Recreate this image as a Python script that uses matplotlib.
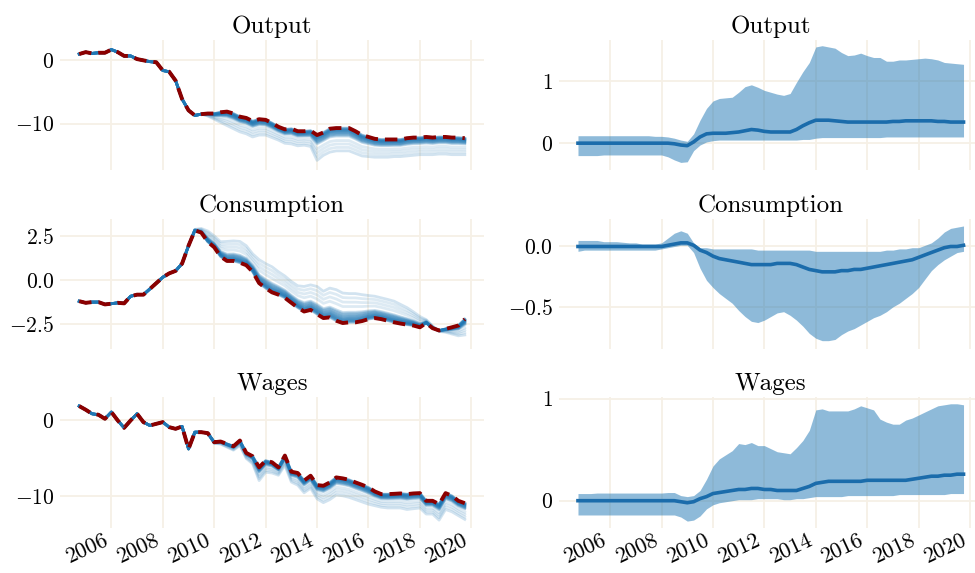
import numpy as np
import pandas as pd
import matplotlib
matplotlib.use("Agg")
import matplotlib.pyplot as plt

plt.rcParams["font.family"] = "serif"
plt.rcParams["font.serif"] = ["cmr10"]
plt.rcParams["mathtext.fontset"] = "cm"
plt.rcParams["axes.formatter.use_mathtext"] = True

# quarterly dates, 2004Q4 .. 2019Q4
dates = pd.date_range("2004-10-01", periods=61, freq="QS")
tick_years = [2006, 2008, 2010, 2012, 2014, 2016, 2018, 2020]
titles = ["Output", "Consumption", "Wages"]

# left column: reference path (red dashed) and the most extreme simulated path
output_ref = [1.0, 1.3, 1.1, 1.2, 1.2, 1.7, 1.3, 0.7, 0.7, 0.2,
              0.0, -0.2, -0.3, -1.6, -1.8, -3.2, -6.1, -7.9, -8.7, -8.5,
              -8.4, -8.4, -8.2, -8.1, -8.4, -8.9, -9.1, -9.6, -9.3, -9.4,
              -9.9, -10.5, -10.9, -10.8, -11.2, -11.2, -11.1, -11.8, -11.4, -10.8,
              -10.7, -10.7, -10.7, -11.2, -11.8, -12.1, -12.4, -12.5, -12.5, -12.5,
              -12.5, -12.3, -12.2, -12.2, -12.1, -12.2, -12.1, -12.1, -12.2, -12.2, -12.3]
output_ext = [1.0, 1.3, 1.1, 1.2, 1.2, 1.7, 1.3, 0.7, 0.7, 0.2,
              0.0, -0.2, -0.3, -1.6, -1.8, -3.2, -6.1, -7.9, -8.7, -8.5,
              -8.8, -9.3, -9.8, -10.3, -10.8, -11.3, -11.6, -12.1, -11.8, -11.8,
              -12.2, -12.6, -13.1, -13.2, -13.5, -13.4, -13.6, -15.8, -15.0, -14.5,
              -14.3, -14.3, -14.3, -14.7, -15.1, -15.2, -15.3, -15.3, -15.3, -15.2,
              -15.2, -15.1, -15.0, -14.9, -14.9, -14.9, -14.8, -14.8, -14.9, -14.9, -14.9]

cons_ref = [-1.2, -1.29, -1.25, -1.25, -1.38, -1.34, -1.29, -1.32, -0.92, -0.83,
            -0.83, -0.51, -0.18, 0.15, 0.37, 0.51, 0.92, 1.93, 2.79, 2.67,
            2.15, 1.84, 1.32, 1.07, 1.07, 0.97, 0.83, 0.46, -0.18, -0.46,
            -0.70, -0.83, -1.01, -1.29, -1.56, -1.78, -1.69, -1.93, -2.15, -2.11,
            -2.30, -2.43, -2.39, -2.39, -2.32, -2.21, -2.15, -2.21, -2.30, -2.39,
            -2.46, -2.52, -2.57, -2.67, -2.43, -2.72, -2.85, -2.76, -2.67, -2.57, -2.21]
cons_ext = [-1.2, -1.29, -1.25, -1.25, -1.38, -1.34, -1.29, -1.32, -0.92, -0.83,
            -0.83, -0.51, -0.18, 0.15, 0.37, 0.51, 0.92, 1.93, 2.85, 2.9,
            2.76, 2.48, 2.15, 2.17, 2.2, 2.17, 1.93, 1.47, 1.14, 0.92,
            0.74, 0.46, 0.22, -0.09, -0.33, -0.37, -0.28, -0.37, -0.64, -0.46,
            -0.55, -0.74, -0.77, -0.77, -0.83, -0.88, -0.92, -1.01, -1.10, -1.2,
            -1.38, -1.56, -1.8, -2.06, -2.24, -2.6, -2.9, -2.95, -3.05, -3.15, -3.1]

wages_ref = [1.8, 1.32, 0.79, 0.66, 0.13, 1.01, -0.09, -1.06, -0.09, 0.79,
             -0.31, -0.75, -0.53, -0.31, -0.97, -1.19, -0.88, -3.83, -1.63, -1.63,
             -1.76, -2.95, -2.86, -3.17, -3.48, -2.73, -4.36, -4.80, -6.26, -5.37,
             -5.59, -6.26, -4.71, -6.83, -7.0, -8.0, -7.36, -8.59, -8.68, -8.24,
             -7.58, -7.71, -7.89, -8.24, -8.55, -8.9, -9.43, -9.78, -9.78, -9.74,
             -9.69, -9.78, -9.69, -9.65, -10.66, -10.66, -11.1, -9.65, -10.0, -10.66, -10.97]
wages_ext = [1.8, 1.32, 0.79, 0.66, 0.13, 1.01, -0.09, -1.06, -0.09, 0.79,
             -0.31, -0.75, -0.53, -0.31, -0.97, -1.19, -0.88, -3.83, -1.63, -1.63,
             -1.76, -3.1, -3.2, -3.6, -4.0, -3.4, -5.1, -5.8, -8.0, -6.9,
             -7.0, -7.3, -6.0, -8.2, -8.6, -9.6, -9.0, -10.4, -10.9, -10.5,
             -9.9, -10.0, -10.2, -10.5, -10.8, -11.1, -11.3, -11.5, -11.6, -11.6,
             -11.6, -11.8, -11.7, -11.6, -12.4, -12.4, -13.2, -11.8, -12.1, -12.6, -13.1]

# share of the way from reference path to extreme path, one per simulated path
ens_weights = [0.0, 0.02, 0.04, 0.06, 0.08, 0.1, 0.12, 0.14, 0.17, 0.2,
               0.23, 0.27, 0.31, 0.35, 0.55, 0.7, 0.85, 1.0]
ens_alpha = [0.3, 0.3, 0.3, 0.3, 0.3, 0.3, 0.3, 0.3, 0.3, 0.3,
             0.3, 0.3, 0.25, 0.25, 0.15, 0.15, 0.15, 0.2]

# right column: mean effect and band
output_mean = [0.0, 0.0, 0.0, 0.0, 0.0, 0.0, 0.0, 0.0, 0.0, 0.0,
               0.0, 0.0, 0.0, 0.0, 0.0, -0.01, -0.03, -0.04, 0.02, 0.10,
               0.15, 0.16, 0.16, 0.16, 0.17, 0.18, 0.20, 0.22, 0.21, 0.19,
               0.18, 0.18, 0.18, 0.18, 0.22, 0.28, 0.33, 0.37, 0.37, 0.37,
               0.36, 0.35, 0.34, 0.34, 0.34, 0.34, 0.34, 0.34, 0.34, 0.35,
               0.35, 0.36, 0.36, 0.36, 0.36, 0.36, 0.35, 0.35, 0.34, 0.34, 0.34]
output_hi = [0.12, 0.12, 0.12, 0.12, 0.12, 0.12, 0.12, 0.12, 0.12, 0.12,
             0.12, 0.12, 0.11, 0.11, 0.10, 0.08, 0.05, 0.03, 0.15, 0.37,
             0.56, 0.68, 0.72, 0.73, 0.74, 0.82, 0.91, 0.94, 0.90, 0.85,
             0.82, 0.79, 0.77, 0.80, 0.98, 1.15, 1.30, 1.55, 1.57, 1.55,
             1.53, 1.46, 1.41, 1.42, 1.45, 1.41, 1.38, 1.38, 1.32, 1.32,
             1.34, 1.34, 1.35, 1.36, 1.37, 1.36, 1.34, 1.30, 1.29, 1.28, 1.27]
output_lo = [-0.20, -0.20, -0.20, -0.20, -0.19, -0.19, -0.19, -0.19, -0.19, -0.19,
             -0.19, -0.19, -0.19, -0.19, -0.22, -0.27, -0.31, -0.30, -0.12, -0.03,
             0.02, 0.04, 0.05, 0.05, 0.05, 0.05, 0.05, 0.05, 0.05, 0.05,
             0.05, 0.05, 0.05, 0.05, 0.05, 0.06, 0.06, 0.08, 0.09, 0.09,
             0.09, 0.09, 0.09, 0.09, 0.09, 0.09, 0.09, 0.09, 0.10, 0.10,
             0.10, 0.10, 0.10, 0.10, 0.10, 0.10, 0.10, 0.10, 0.10, 0.10, 0.10]

cons_mean = [0.0, 0.0, 0.0, 0.0, 0.0, 0.0, 0.0, 0.0, 0.0, 0.0,
             0.0, 0.0, 0.0, 0.0, 0.01, 0.02, 0.03, 0.03, 0.01, -0.03,
             -0.05, -0.08, -0.10, -0.11, -0.12, -0.13, -0.14, -0.15, -0.15, -0.15,
             -0.15, -0.14, -0.14, -0.14, -0.15, -0.17, -0.19, -0.20, -0.21, -0.21,
             -0.21, -0.20, -0.20, -0.19, -0.19, -0.18, -0.17, -0.16, -0.15, -0.14,
             -0.13, -0.12, -0.11, -0.09, -0.07, -0.05, -0.03, -0.01, 0.0, 0.0, 0.01]
cons_hi = [0.05, 0.05, 0.05, 0.05, 0.04, 0.04, 0.04, 0.035, 0.03, 0.03,
           0.02, 0.02, 0.02, 0.03, 0.07, 0.11, 0.13, 0.11, 0.03, -0.01,
           -0.01, -0.02, -0.02, -0.02, -0.02, -0.02, -0.02, -0.02, -0.03, -0.03,
           -0.03, -0.03, -0.03, -0.03, -0.03, -0.03, -0.03, -0.04, -0.04, -0.04,
           -0.04, -0.04, -0.04, -0.04, -0.04, -0.04, -0.04, -0.04, -0.03, -0.03,
           -0.02, -0.02, -0.01, -0.01, 0.01, 0.03, 0.07, 0.12, 0.15, 0.16, 0.17]
cons_lo = [-0.04, -0.03, -0.03, -0.03, -0.03, -0.03, -0.03, -0.03, -0.03, -0.03,
           -0.03, -0.03, -0.03, -0.02, -0.01, 0.0, 0.01, 0.01, -0.05, -0.18,
           -0.28, -0.34, -0.39, -0.43, -0.47, -0.53, -0.58, -0.62, -0.63, -0.61,
           -0.58, -0.55, -0.54, -0.57, -0.61, -0.66, -0.72, -0.76, -0.78, -0.78,
           -0.77, -0.73, -0.70, -0.68, -0.65, -0.62, -0.59, -0.57, -0.54, -0.50,
           -0.47, -0.43, -0.39, -0.34, -0.27, -0.20, -0.15, -0.11, -0.08, -0.05, -0.04]

wages_mean = [0.0, 0.0, 0.0, 0.0, 0.0, 0.0, 0.0, 0.0, 0.0, 0.0,
              0.0, 0.0, 0.0, 0.0, 0.0, 0.0, -0.01, -0.02, -0.01, 0.02,
              0.04, 0.07, 0.08, 0.09, 0.10, 0.11, 0.11, 0.12, 0.12, 0.11,
              0.11, 0.10, 0.10, 0.10, 0.10, 0.12, 0.14, 0.17, 0.18, 0.19,
              0.19, 0.19, 0.19, 0.19, 0.19, 0.20, 0.20, 0.20, 0.20, 0.20,
              0.20, 0.20, 0.21, 0.22, 0.23, 0.24, 0.24, 0.25, 0.25, 0.26, 0.26]
wages_hi = [0.07, 0.07, 0.07, 0.075, 0.075, 0.075, 0.075, 0.075, 0.075, 0.075,
            0.075, 0.075, 0.075, 0.075, 0.08, 0.08, 0.05, 0.04, 0.05, 0.10,
            0.21, 0.34, 0.41, 0.45, 0.49, 0.56, 0.55, 0.57, 0.54, 0.54,
            0.51, 0.48, 0.47, 0.46, 0.52, 0.59, 0.69, 0.89, 0.90, 0.88,
            0.88, 0.88, 0.88, 0.90, 0.93, 0.91, 0.89, 0.80, 0.77, 0.75,
            0.75, 0.79, 0.81, 0.84, 0.87, 0.90, 0.93, 0.94, 0.95, 0.95, 0.94]
wages_lo = [-0.14, -0.14, -0.14, -0.14, -0.14, -0.14, -0.14, -0.14, -0.14, -0.14,
            -0.14, -0.14, -0.14, -0.14, -0.14, -0.14, -0.16, -0.20, -0.19, -0.15,
            -0.08, -0.04, -0.02, -0.01, 0.0, 0.01, 0.01, 0.01, 0.02, 0.02,
            0.02, 0.02, 0.01, 0.01, 0.02, 0.02, 0.03, 0.04, 0.04, 0.04,
            0.04, 0.04, 0.05, 0.05, 0.05, 0.05, 0.05, 0.05, 0.05, 0.05,
            0.06, 0.06, 0.06, 0.06, 0.06, 0.06, 0.06, 0.06, 0.07, 0.07, 0.07]

left_ref = [output_ref, cons_ref, wages_ref]
left_ext = [output_ext, cons_ext, wages_ext]
right_mean = [output_mean, cons_mean, wages_mean]
right_hi = [output_hi, cons_hi, wages_hi]
right_lo = [output_lo, cons_lo, wages_lo]
left_yticks = [[-10, 0], [-2.5, 0.0, 2.5], [-10, 0]]
right_yticks = [[0, 1], [-0.5, 0.0], [0, 1]]
left_ylim = [(-17.4, 3.2), (-3.9, 3.45), (-14.2, 2.95)]
right_ylim = [(-0.44, 1.66), (-0.85, 0.23), (-0.265, 1.013)]

blue = "#1f77b4"
grid_col = "#f6f0e6"

fig, axes = plt.subplots(3, 2, figsize=(9.75, 5.73), dpi=100, sharex=True)
fig.subplots_adjust(left=0.0615, right=1.008, bottom=0.079, top=0.930,
                    wspace=0.176, hspace=0.37)

for i in range(3):
    ax = axes[i, 0]
    ref = np.array(left_ref[i])
    ext = np.array(left_ext[i])
    for w, a in zip(ens_weights, ens_alpha):
        ax.plot(dates, ref + w * (ext - ref), color=blue, lw=2.0, alpha=a)
    ax.plot(dates, ref, color="#8b0000", lw=2.8, ls=(0, (3.2, 1.8)))
    ax.set_yticks(left_yticks[i])
    ax.set_ylim(left_ylim[i])

    ax = axes[i, 1]
    ax.fill_between(dates, right_lo[i], right_hi[i], color=blue, alpha=0.5, lw=0)
    ax.plot(dates, right_mean[i], color="#1b6cab", lw=2.6)
    ax.set_yticks(right_yticks[i])
    ax.set_ylim(right_ylim[i])

for i, ax in enumerate(axes.flat):
    ax.set_title(titles[i // 2], fontsize=18, pad=5)
    for s in ax.spines.values():
        s.set_visible(False)
    ax.grid(True, color=grid_col, lw=1.3)
    ax.set_axisbelow(True)
    ax.tick_params(axis="y", length=0, labelsize=15.5, pad=4)
    ax.tick_params(axis="x", length=0, labelsize=16, pad=2)
    ax.set_xticks([pd.Timestamp(f"{y}-01-01") for y in tick_years])
    ax.set_xticklabels([str(y) for y in tick_years])

for ax in axes[2]:
    for lab in ax.get_xticklabels():
        lab.set_rotation(25)
        lab.set_ha("right")

fig.savefig("out.png", dpi=100)
